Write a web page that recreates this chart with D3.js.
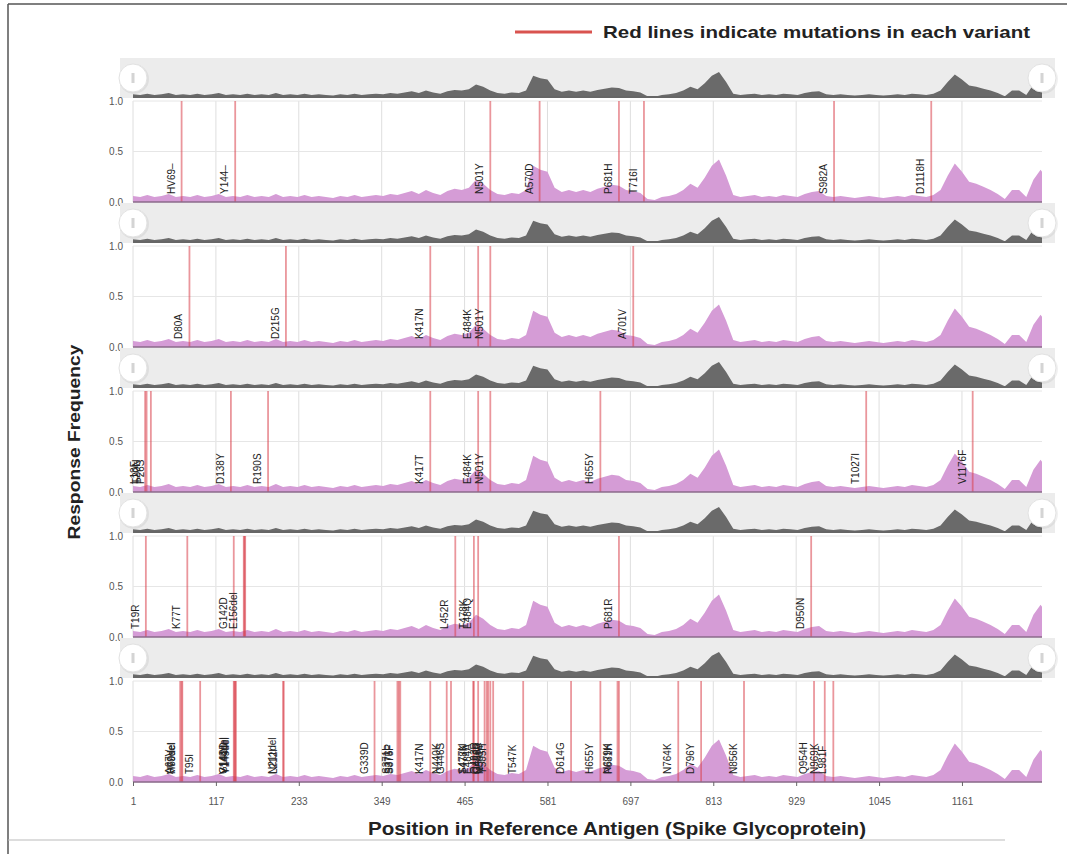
<!DOCTYPE html>
<html>
<head>
<meta charset="utf-8">
<script src="https://cdn.jsdelivr.net/npm/d3@7"></script>
<style>
  body { margin: 0; background: #fff; }
  svg { display: block; font-family: "Liberation Sans", Arial, sans-serif; }
</style>
</head>
<body>
<svg id="chart" width="1067" height="854"></svg>
<script>
// response frequency profile along the spike (every 10 aa)
const positions = [1, 11, 21, 31, 41, 51, 61, 71, 81, 91, 101, 111, 121, 131, 141, 151, 161, 171, 181, 191,
  201, 211, 221, 231, 241, 251, 261, 271, 281, 291, 301, 311, 321, 331, 341, 351, 361, 371, 381, 391,
  401, 411, 421, 431, 441, 451, 461, 471, 481, 491, 501, 511, 521, 531, 541, 551, 561, 571, 581, 591,
  601, 611, 621, 631, 641, 651, 661, 671, 681, 691, 701, 711, 721, 731, 741, 751, 761, 771, 781, 791,
  801, 811, 821, 831, 841, 851, 861, 871, 881, 891, 901, 911, 921, 931, 941, 951, 961, 971, 981, 991,
  1001, 1011, 1021, 1031, 1041, 1051, 1061, 1071, 1081, 1091, 1101, 1111, 1121, 1131, 1141, 1151, 1161, 1171, 1181, 1191,
  1201, 1211, 1221, 1231, 1241, 1251, 1261, 1271, 1273];
const responseFreq = [0.06, 0.05, 0.07, 0.05, 0.06, 0.08, 0.05, 0.06, 0.05, 0.07, 0.05, 0.06, 0.08, 0.05, 0.06, 0.05, 0.07, 0.05, 0.06, 0.05,
  0.08, 0.05, 0.06, 0.05, 0.07, 0.05, 0.06, 0.05, 0.04, 0.06, 0.05, 0.07, 0.05, 0.06, 0.07, 0.06, 0.08, 0.07, 0.09, 0.11,
  0.08, 0.12, 0.09, 0.07, 0.11, 0.13, 0.12, 0.14, 0.22, 0.18, 0.12, 0.08, 0.07, 0.09, 0.08, 0.12, 0.36, 0.32, 0.30, 0.14,
  0.10, 0.12, 0.10, 0.12, 0.10, 0.13, 0.15, 0.17, 0.16, 0.12, 0.11, 0.09, 0.03, 0.02, 0.05, 0.06, 0.08, 0.12, 0.18, 0.14,
  0.24, 0.36, 0.42, 0.26, 0.07, 0.05, 0.06, 0.07, 0.05, 0.06, 0.05, 0.07, 0.06, 0.05, 0.08, 0.10, 0.11, 0.06, 0.05, 0.06,
  0.05, 0.04, 0.05, 0.06, 0.05, 0.04, 0.05, 0.06, 0.05, 0.07, 0.06, 0.05, 0.07, 0.12, 0.26, 0.38, 0.30, 0.20, 0.18, 0.15,
  0.12, 0.08, 0.03, 0.12, 0.12, 0.05, 0.22, 0.32, 0.30];

// mutations per variant (panel order top to bottom)
const alphaPos = [69, 144, 501, 570, 681, 716, 982, 1118];
const alphaLabels = ["HV69–", "Y144–", "N501Y", "A570D", "P681H", "T716I", "S982A", "D1118H"];
const betaPos = [80, 215, 417, 484, 501, 701];
const betaLabels = ["D80A", "D215G", "K417N", "E484K", "N501Y", "A701V"];
const gammaPos = [18, 20, 26, 138, 190, 417, 484, 501, 655, 1027, 1176];
const gammaLabels = ["L18F", "T20N", "P26S", "D138Y", "R190S", "K417T", "E484K", "N501Y", "H655Y", "T1027I", "V1176F"];
const deltaPos = [19, 77, 142, 156, 157, 158, 452, 478, 484, 681, 950];
const deltaLabels = ["T19R", "K77T", "G142D", "E156del", "", "", "L452R", "T478K", "E484Q", "P681R", "D950N"];
const omicronPos = [67, 69, 70, 95, 142, 143, 144, 145, 211, 212, 339, 371, 373, 375, 417, 440, 446, 477, 478, 484,
  493, 496, 498, 501, 505, 547, 614, 655, 679, 681, 764, 796, 856, 954, 969, 981];
const omicronLabels = ["A67V", "H69del", "V70del", "T95I", "G142D", "V143del", "Y144del", "Y145del", "N211del", "L212I",
  "G339D", "S371L", "S373P", "S375F", "K417N", "N440K", "G446S", "S477N", "T478K", "E484A",
  "Q493R", "G496S", "Q498R", "N501Y", "Y505H", "T547K", "D614G", "H655Y", "N679K", "P681H",
  "N764K", "D796Y", "N856K", "Q954H", "N969K", "L981F"];

const xTicks = [1, 117, 233, 349, 465, 581, 697, 813, 929, 1045, 1161];
const yTicks = [0, 0.5, 1.0];

const panels = [
  { pos: alphaPos, labels: alphaLabels },
  { pos: betaPos, labels: betaLabels },
  { pos: gammaPos, labels: gammaLabels },
  { pos: deltaPos, labels: deltaLabels },
  { pos: omicronPos, labels: omicronLabels }
];

const profile = positions.map((p, i) => ({ p: p, v: responseFreq[i] }));

const svg = d3.select("#chart");

// frame
svg.append("line").attr("x1", 8).attr("x2", 1067).attr("y1", 4).attr("y2", 4)
  .attr("stroke", "#555").attr("stroke-width", 1.5);
svg.append("line").attr("x1", 8).attr("x2", 8).attr("y1", 4).attr("y2", 854)
  .attr("stroke", "#555").attr("stroke-width", 1.5);
svg.append("line").attr("x1", 8).attr("x2", 1005).attr("y1", 840).attr("y2", 840)
  .attr("stroke", "#bbb").attr("stroke-width", 1);

const x = d3.scaleLinear().domain([1, 1273]).range([133, 1042]);

const panelPitch = 145;
const mainH = 101;
const bandH = 40;

panels.forEach((panel, i) => {
  const top = 101 + i * panelPitch;
  const g = svg.append("g").attr("class", "panel");

  // context strip (grey overview)
  const bandBottom = top - 3;
  g.append("rect")
    .attr("x", 120).attr("y", bandBottom - bandH)
    .attr("width", 935).attr("height", bandH)
    .attr("fill", "#ececec");

  const yc = d3.scaleLinear()
    .domain([0, d3.max(responseFreq)])
    .range([bandBottom, bandBottom - 26]);
  g.append("path")
    .datum(profile)
    .attr("d", d3.area().x(d => x(d.p)).y0(bandBottom).y1(d => yc(d.v)))
    .attr("fill", "#6a6a6a");
  g.append("line")
    .attr("x1", x(1)).attr("x2", x(1273))
    .attr("y1", bandBottom - 1).attr("y2", bandBottom - 1)
    .attr("stroke", "#666").attr("stroke-width", 2);

  // brush handles
  [x(1), x(1273)].forEach(hx => {
    const hy = bandBottom - bandH / 2;
    g.append("circle").attr("cx", hx + 1).attr("cy", hy + 1).attr("r", 15)
      .attr("fill", "#000").attr("opacity", 0.06);
    g.append("circle").attr("cx", hx).attr("cy", hy).attr("r", 14)
      .attr("fill", "#fff").attr("stroke", "#e2e2e2");
    g.append("rect").attr("x", hx - 1.5).attr("y", hy - 5)
      .attr("width", 3).attr("height", 10).attr("fill", "#d4d4d4");
  });

  // main area
  const y = d3.scaleLinear().domain([0, 1]).range([top + mainH, top]);
  g.append("rect")
    .attr("x", x(1)).attr("y", top)
    .attr("width", x(1273) - x(1)).attr("height", mainH)
    .attr("fill", "#fff");

  g.append("g")
    .selectAll("line")
    .data(xTicks)
    .join("line")
    .attr("x1", d => x(d)).attr("x2", d => x(d))
    .attr("y1", y(1)).attr("y2", y(0))
    .attr("stroke", "#dedede");
  g.append("g")
    .selectAll("line")
    .data(yTicks)
    .join("line")
    .attr("x1", x(1)).attr("x2", x(1273))
    .attr("y1", d => y(d)).attr("y2", d => y(d))
    .attr("stroke", "#e6e6e6");

  g.append("path")
    .datum(profile)
    .attr("d", d3.area().x(d => x(d.p)).y0(y(0)).y1(d => y(d.v)))
    .attr("fill", "#d59cd6");

  // mutation lines
  g.append("g")
    .selectAll("line")
    .data(panel.pos)
    .join("line")
    .attr("x1", d => x(d)).attr("x2", d => x(d))
    .attr("y1", y(1)).attr("y2", y(0))
    .attr("stroke", "#d9404a")
    .attr("stroke-opacity", 0.55)
    .attr("stroke-width", 1.8);

  g.append("g")
    .selectAll("text")
    .data(panel.pos.map((p, k) => ({ p: p, t: panel.labels[k] })))
    .join("text")
    .attr("transform", d => `translate(${x(d.p) - 7},${y(0) - 8}) rotate(-90)`)
    .attr("font-size", "10px")
    .attr("fill", "#222")
    .text(d => d.t);

  // baseline
  g.append("line")
    .attr("x1", x(1)).attr("x2", x(1273))
    .attr("y1", y(0)).attr("y2", y(0))
    .attr("stroke", "#8a6a8a").attr("stroke-width", 1.5);

  // y axis
  const yAxis = g.append("g")
    .attr("transform", `translate(${x(1) - 4},0)`)
    .call(d3.axisLeft(y).tickValues(yTicks).tickFormat(d3.format(".1f")).tickSize(0).tickPadding(6));
  yAxis.select(".domain").remove();
  yAxis.selectAll("text").attr("font-size", "10px").attr("fill", "#555")
    .attr("font-family", "Liberation Sans, Arial, sans-serif");

  // x axis only on the last panel
  if (i === panels.length - 1) {
    const xAxis = g.append("g")
      .attr("transform", `translate(0,${y(0)})`)
      .call(d3.axisBottom(x).tickValues(xTicks).tickFormat(d3.format("d")).tickSize(4).tickPadding(12));
    xAxis.select(".domain").remove();
    xAxis.selectAll("line").attr("stroke", "#666");
    xAxis.selectAll("text").attr("font-size", "10px").attr("fill", "#555")
      .attr("font-family", "Liberation Sans, Arial, sans-serif");
  }
});

// legend
svg.append("line")
  .attr("x1", 515).attr("x2", 592).attr("y1", 32).attr("y2", 32)
  .attr("stroke", "#d9534f").attr("stroke-width", 3);
svg.append("text")
  .attr("x", 603).attr("y", 38)
  .attr("font-size", "17px").attr("font-weight", "bold").attr("fill", "#222")
  .attr("textLength", 427).attr("lengthAdjust", "spacingAndGlyphs")
  .text("Red lines indicate mutations in each variant");

// axis titles
svg.append("text")
  .attr("transform", "translate(80,442) rotate(-90)")
  .attr("text-anchor", "middle")
  .attr("font-size", "17px").attr("font-weight", "bold").attr("fill", "#222")
  .attr("textLength", 195).attr("lengthAdjust", "spacingAndGlyphs")
  .text("Response Frequency");
svg.append("text")
  .attr("x", 617).attr("y", 835)
  .attr("text-anchor", "middle")
  .attr("font-size", "18px").attr("font-weight", "bold").attr("fill", "#222")
  .attr("textLength", 498).attr("lengthAdjust", "spacingAndGlyphs")
  .text("Position in Reference Antigen (Spike Glycoprotein)");
</script>
</body>
</html>
